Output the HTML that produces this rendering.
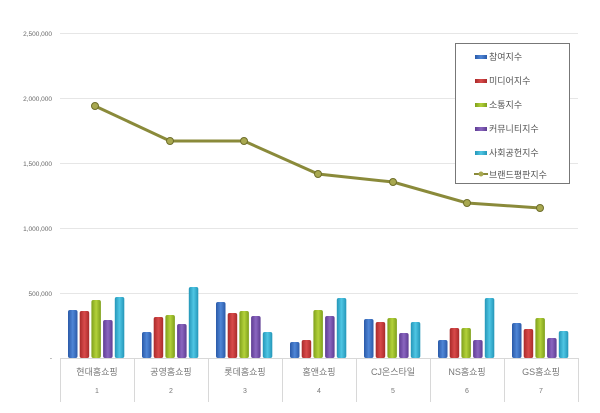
<!DOCTYPE html><html><head><meta charset="utf-8"><style>body{margin:0;background:#fff}svg{display:block}text{font-family:"Liberation Sans","Noto Sans CJK KR",sans-serif}</style></head><body>
<svg width="600" height="413" xmlns="http://www.w3.org/2000/svg">
<defs>
<linearGradient id="b" x1="0" x2="1"><stop offset="0" stop-color="#2a5aa8"/><stop offset=".5" stop-color="#4f86d6"/><stop offset="1" stop-color="#2a5aa8"/></linearGradient>
<linearGradient id="r" x1="0" x2="1"><stop offset="0" stop-color="#a82a2a"/><stop offset=".5" stop-color="#d94a4a"/><stop offset="1" stop-color="#a82a2a"/></linearGradient>
<linearGradient id="g" x1="0" x2="1"><stop offset="0" stop-color="#7fa01c"/><stop offset=".5" stop-color="#b3d13a"/><stop offset="1" stop-color="#7fa01c"/></linearGradient>
<linearGradient id="p" x1="0" x2="1"><stop offset="0" stop-color="#5e3c92"/><stop offset=".5" stop-color="#8a66c0"/><stop offset="1" stop-color="#5e3c92"/></linearGradient>
<linearGradient id="c" x1="0" x2="1"><stop offset="0" stop-color="#2496b8"/><stop offset=".5" stop-color="#4fc6e4"/><stop offset="1" stop-color="#2496b8"/></linearGradient>
</defs>
<g stroke="#e6e6e6" stroke-width="1">
<line x1="60" y1="33.5" x2="578" y2="33.5"/><line x1="60" y1="98.5" x2="578" y2="98.5"/><line x1="60" y1="163.5" x2="578" y2="163.5"/><line x1="60" y1="228.5" x2="578" y2="228.5"/><line x1="60" y1="293.5" x2="578" y2="293.5"/>
</g>
<g stroke="#d8d8d8"><line x1="60" y1="358.5" x2="578" y2="358.5"/>
<line x1="60.5" y1="358" x2="60.5" y2="402"/><line x1="134.5" y1="358" x2="134.5" y2="402"/><line x1="208.5" y1="358" x2="208.5" y2="402"/><line x1="282.5" y1="358" x2="282.5" y2="402"/><line x1="356.5" y1="358" x2="356.5" y2="402"/><line x1="430.5" y1="358" x2="430.5" y2="402"/><line x1="504.5" y1="358" x2="504.5" y2="402"/><line x1="578.5" y1="358" x2="578.5" y2="402"/></g>
<g font-size="6.5" fill="#666" text-anchor="end">
<text x="52" y="36">2,500,000</text><text x="52" y="101">2,000,000</text><text x="52" y="166">1,500,000</text><text x="52" y="231">1,000,000</text><text x="52" y="296">500,000</text><text x="52" y="360">-</text></g>
<g>
<rect x="68" y="310" width="9.5" height="48" rx="2" fill="url(#b)"/><rect x="79.7" y="311" width="9.5" height="47" rx="2" fill="url(#r)"/><rect x="91.4" y="300" width="9.5" height="58" rx="2" fill="url(#g)"/><rect x="103.1" y="320" width="9.5" height="38" rx="2" fill="url(#p)"/><rect x="114.8" y="297" width="9.5" height="61" rx="2" fill="url(#c)"/>
<rect x="142" y="332" width="9.5" height="26" rx="2" fill="url(#b)"/><rect x="153.7" y="317" width="9.5" height="41" rx="2" fill="url(#r)"/><rect x="165.4" y="315" width="9.5" height="43" rx="2" fill="url(#g)"/><rect x="177.1" y="324" width="9.5" height="34" rx="2" fill="url(#p)"/><rect x="188.8" y="287" width="9.5" height="71" rx="2" fill="url(#c)"/>
<rect x="216" y="302" width="9.5" height="56" rx="2" fill="url(#b)"/><rect x="227.7" y="313" width="9.5" height="45" rx="2" fill="url(#r)"/><rect x="239.4" y="311" width="9.5" height="47" rx="2" fill="url(#g)"/><rect x="251.1" y="316" width="9.5" height="42" rx="2" fill="url(#p)"/><rect x="262.8" y="332" width="9.5" height="26" rx="2" fill="url(#c)"/>
<rect x="290" y="342" width="9.5" height="16" rx="2" fill="url(#b)"/><rect x="301.7" y="340" width="9.5" height="18" rx="2" fill="url(#r)"/><rect x="313.4" y="310" width="9.5" height="48" rx="2" fill="url(#g)"/><rect x="325.1" y="316" width="9.5" height="42" rx="2" fill="url(#p)"/><rect x="336.8" y="298" width="9.5" height="60" rx="2" fill="url(#c)"/>
<rect x="364" y="319" width="9.5" height="39" rx="2" fill="url(#b)"/><rect x="375.7" y="322" width="9.5" height="36" rx="2" fill="url(#r)"/><rect x="387.4" y="318" width="9.5" height="40" rx="2" fill="url(#g)"/><rect x="399.1" y="333" width="9.5" height="25" rx="2" fill="url(#p)"/><rect x="410.8" y="322" width="9.5" height="36" rx="2" fill="url(#c)"/>
<rect x="438" y="340" width="9.5" height="18" rx="2" fill="url(#b)"/><rect x="449.7" y="328" width="9.5" height="30" rx="2" fill="url(#r)"/><rect x="461.4" y="328" width="9.5" height="30" rx="2" fill="url(#g)"/><rect x="473.1" y="340" width="9.5" height="18" rx="2" fill="url(#p)"/><rect x="484.8" y="298" width="9.5" height="60" rx="2" fill="url(#c)"/>
<rect x="512" y="323" width="9.5" height="35" rx="2" fill="url(#b)"/><rect x="523.7" y="329" width="9.5" height="29" rx="2" fill="url(#r)"/><rect x="535.4" y="318" width="9.5" height="40" rx="2" fill="url(#g)"/><rect x="547.1" y="338" width="9.5" height="20" rx="2" fill="url(#p)"/><rect x="558.8" y="331" width="9.5" height="27" rx="2" fill="url(#c)"/>
</g>
<g font-size="9" fill="#777" text-anchor="middle">
<text x="97" y="375">현대홈쇼핑</text><text x="171" y="375">공영홈쇼핑</text><text x="245" y="375">롯데홈쇼핑</text><text x="319" y="375">홈앤쇼핑</text><text x="393" y="375">CJ온스타일</text><text x="467" y="375">NS홈쇼핑</text><text x="541" y="375">GS홈쇼핑</text></g>
<g font-size="7" fill="#777" text-anchor="middle">
<text x="97" y="393">1</text><text x="171" y="393">2</text><text x="245" y="393">3</text><text x="319" y="393">4</text><text x="393" y="393">5</text><text x="467" y="393">6</text><text x="541" y="393">7</text></g>
<polyline points="95,106 170,141 244,141 318,174 393,182 467,203 540,208" fill="none" stroke="#8a8a3a" stroke-width="3"/>
<g fill="#a8a850" stroke="#6e6e2a"><circle cx="95" cy="106" r="3.5"/><circle cx="170" cy="141" r="3.5"/><circle cx="244" cy="141" r="3.5"/><circle cx="318" cy="174" r="3.5"/><circle cx="393" cy="182" r="3.5"/><circle cx="467" cy="203" r="3.5"/><circle cx="540" cy="208" r="3.5"/></g>
<rect x="455.5" y="43.5" width="114" height="140" fill="#fff" stroke="#777"/>
<g font-size="9" fill="#555">
<rect x="475" y="55" width="12" height="4" fill="url(#b)"/><text x="489" y="60">참여지수</text>
<rect x="475" y="79" width="12" height="4" fill="url(#r)"/><text x="489" y="84">미디어지수</text>
<rect x="475" y="103" width="12" height="4" fill="url(#g)"/><text x="489" y="108">소통지수</text>
<rect x="475" y="127" width="12" height="4" fill="url(#p)"/><text x="489" y="132">커뮤니티지수</text>
<rect x="475" y="151" width="12" height="4" fill="url(#c)"/><text x="489" y="156">사회공헌지수</text>
<line x1="474" y1="174" x2="488" y2="174" stroke="#8a8a3a" stroke-width="2"/><circle cx="481" cy="174" r="2.5" fill="#a8a850"/><text x="489" y="178">브랜드평판지수</text>
</g>
</svg></body></html>
